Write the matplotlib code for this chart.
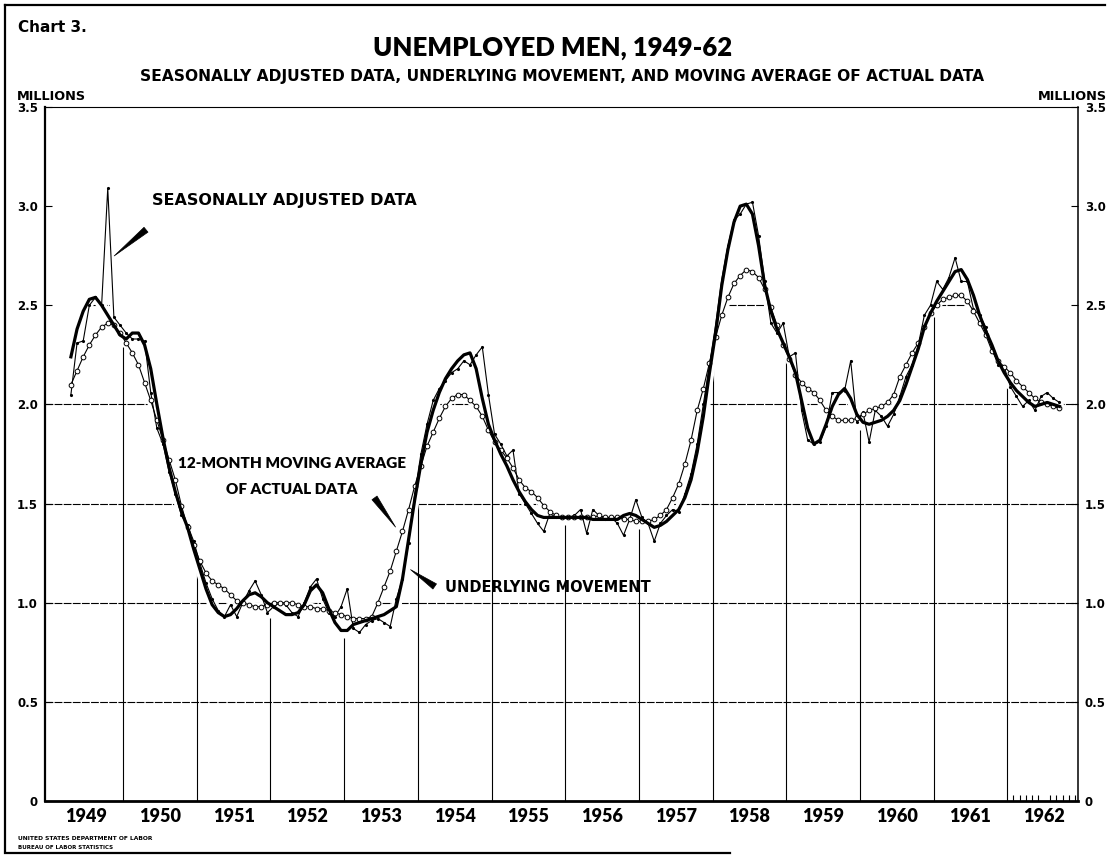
import numpy as np
import matplotlib
matplotlib.use('Agg')
import matplotlib.pyplot as plt
from matplotlib.patches import Polygon

# monthly series, April 1949 through September 1962 (millions)
seasonally_adjusted = [
    2.05, 2.31, 2.32, 2.50, 2.54, 2.50, 3.09, 2.44, 2.40,                   # 1949
    2.36, 2.33, 2.33, 2.32, 2.06, 1.88, 1.80, 1.66, 1.55, 1.44, 1.39, 1.31,  # 1950
    1.20, 1.10, 1.02, 0.96, 0.93, 0.99, 0.93, 1.00, 1.06, 1.11, 1.04, 0.95,  # 1951
    0.98, 1.00, 0.99, 0.95, 0.93, 1.00, 1.08, 1.12, 1.02, 0.95, 0.93, 0.98,  # 1952
    1.07, 0.87, 0.85, 0.89, 0.91, 0.92, 0.90, 0.88, 1.02, 1.12, 1.30, 1.55,  # 1953
    1.75, 1.90, 2.02, 2.08, 2.12, 2.16, 2.18, 2.22, 2.20, 2.25, 2.29, 2.05,  # 1954
    1.85, 1.80, 1.74, 1.77, 1.55, 1.50, 1.45, 1.40, 1.36, 1.45, 1.43, 1.43,  # 1955
    1.43, 1.44, 1.47, 1.35, 1.47, 1.44, 1.42, 1.43, 1.40, 1.34, 1.42, 1.52,  # 1956
    1.43, 1.40, 1.31, 1.40, 1.44, 1.47, 1.46, 1.55, 1.65, 1.80, 2.00, 2.20,  # 1957
    2.40, 2.63, 2.80, 2.93, 2.96, 3.01, 3.02, 2.85, 2.62, 2.41, 2.36, 2.41,  # 1958
    2.24, 2.26, 1.97, 1.82, 1.80, 1.81, 1.89, 2.06, 2.06, 2.07, 2.22, 1.91,  # 1959
    1.96, 1.81, 1.97, 1.94, 1.89, 1.95, 2.04, 2.14, 2.20, 2.30, 2.45, 2.50,  # 1960
    2.62, 2.58, 2.64, 2.74, 2.62, 2.62, 2.48, 2.45, 2.39, 2.28, 2.20, 2.19,  # 1961
    2.09, 2.04, 1.99, 2.02, 1.97, 2.04, 2.06, 2.03, 2.01,                    # 1962
]

underlying = [
    2.24, 2.38, 2.47, 2.53, 2.54, 2.50, 2.45, 2.40, 2.35,
    2.33, 2.36, 2.36, 2.30, 2.18, 2.00, 1.83, 1.68, 1.56, 1.46, 1.38, 1.27,
    1.17, 1.07, 0.99, 0.95, 0.93, 0.94, 0.97, 1.01, 1.04, 1.05, 1.03, 1.00,
    0.98, 0.96, 0.94, 0.94, 0.95, 0.99, 1.06, 1.09, 1.05, 0.97, 0.90, 0.86,
    0.86, 0.89, 0.90, 0.91, 0.92, 0.93, 0.94, 0.96, 0.98, 1.12, 1.32, 1.52,
    1.70, 1.86, 1.97, 2.06, 2.13, 2.18, 2.22, 2.25, 2.26, 2.18, 2.03, 1.90,
    1.82, 1.75, 1.69, 1.62, 1.56, 1.51, 1.47, 1.44, 1.43, 1.43, 1.43, 1.43,
    1.43, 1.43, 1.43, 1.43, 1.42, 1.42, 1.42, 1.42, 1.42, 1.44, 1.45, 1.44,
    1.42, 1.40, 1.38, 1.39, 1.41, 1.44, 1.47, 1.53, 1.62, 1.76, 1.94, 2.16,
    2.36, 2.60, 2.78, 2.92, 3.00, 3.01, 2.96, 2.80, 2.60, 2.47, 2.38, 2.31,
    2.24, 2.16, 2.02, 1.88, 1.80, 1.82, 1.90, 1.99, 2.05, 2.08, 2.03, 1.95,
    1.91, 1.90, 1.91, 1.92, 1.94, 1.97, 2.02, 2.10, 2.19, 2.28, 2.39, 2.46,
    2.52, 2.57, 2.62, 2.67, 2.68, 2.63, 2.55, 2.45, 2.37, 2.30, 2.22, 2.16,
    2.11, 2.07, 2.04, 2.01, 1.99, 2.00, 2.01, 2.00, 1.99,
]

moving_avg = [
    2.10, 2.17, 2.24, 2.30, 2.35, 2.39, 2.41, 2.40, 2.36,
    2.31, 2.26, 2.20, 2.11, 2.02, 1.92, 1.82, 1.72, 1.62, 1.49, 1.38, 1.29,
    1.21, 1.15, 1.11, 1.09, 1.07, 1.04, 1.01, 1.00, 0.99, 0.98, 0.98, 0.99,
    1.00, 1.00, 1.00, 1.00, 0.99, 0.98, 0.98, 0.97, 0.97, 0.96, 0.95, 0.94,
    0.93, 0.92, 0.92, 0.92, 0.93, 1.00, 1.08, 1.16, 1.26, 1.36, 1.47, 1.59,
    1.69, 1.79, 1.86, 1.93, 1.99, 2.03, 2.05, 2.05, 2.02, 1.99, 1.94, 1.87,
    1.81, 1.77, 1.73, 1.68, 1.62, 1.58, 1.56, 1.53, 1.49, 1.46, 1.44, 1.43,
    1.43, 1.43, 1.43, 1.43, 1.43, 1.44, 1.43, 1.43, 1.43, 1.42, 1.42, 1.41,
    1.41, 1.41, 1.42, 1.44, 1.47, 1.53, 1.60, 1.70, 1.82, 1.97, 2.08, 2.21,
    2.34, 2.45, 2.54, 2.61, 2.65, 2.68, 2.67, 2.64, 2.58, 2.49, 2.40, 2.30,
    2.23, 2.15, 2.11, 2.08, 2.06, 2.02, 1.97, 1.94, 1.92, 1.92, 1.92, 1.93,
    1.95, 1.97, 1.98, 1.99, 2.01, 2.05, 2.14, 2.20, 2.26, 2.31, 2.39, 2.46,
    2.50, 2.53, 2.54, 2.55, 2.55, 2.52, 2.47, 2.41, 2.35, 2.27, 2.22, 2.19,
    2.16, 2.12, 2.09, 2.06, 2.03, 2.01, 2.00, 1.99, 1.98,
]

years = list(range(1949, 1963))
y_ticks = [0, 0.5, 1.0, 1.5, 2.0, 2.5, 3.0, 3.5]
y_labels = ['0', '0.5', '1.0', '1.5', '2.0', '2.5', '3.0', '3.5']

HEAVY = ['Lato', 'DejaVu Sans']
BOLD = ['DejaVu Sans']
plt.rcParams['font.family'] = BOLD
plt.rcParams['font.weight'] = 'bold'

W, H = 1110, 855
fig = plt.figure(figsize=(W / 100, H / 100), dpi=100)
fig.patch.set_facecolor('white')

def fx(px):
    return px / W

def fy(py):
    return 1 - py / H

ax = fig.add_axes([fx(45), fy(801), fx(1078) - fx(45), fy(107) - fy(801)])

# month centres, starting April 1949
t = 1949 + (3 + np.arange(len(underlying)) + 0.5) / 12
sa = np.array(seasonally_adjusted)
um = np.array(underlying)
ma = np.array(moving_avg)

x0, x1 = 1948.94, 1962.96
ax.set_xlim(x0, x1)
ax.set_ylim(0, 3.5)

# horizontal rules only inside the area beneath the curves
top = np.maximum.reduce([sa, um, ma])
xs = np.concatenate([[x0], t, [x1]])
env = np.concatenate([[top[0]], top, [top[-1]]])
verts = np.column_stack([np.concatenate([xs, xs[::-1]]),
                         np.concatenate([env, np.zeros_like(env)])])
clip = Polygon(verts, closed=True, facecolor='none', edgecolor='none',
               transform=ax.transData)
ax.add_patch(clip)
for yv in y_ticks[1:-1]:
    ln, = ax.plot([x0, x1], [yv, yv], color='black', lw=0.8, zorder=1,
                  dashes=(7, 1.2))
    ln.set_clip_path(clip)

# year dividers rise from the base up to the lowest curve
low = np.minimum.reduce([sa, um, ma])
bounds = np.arange(1950, 1963)
ax.vlines(bounds, 0, np.interp(bounds, t, low) - 0.04, color='black',
          lw=0.8, zorder=1)

# white halos break the rules where the curves pass
halo = dict(color='white', solid_capstyle='round', zorder=2)
ax.plot(t, sa, lw=5, **halo)
ax.plot(t, ma, lw=6, **halo)
ax.plot(t, um, lw=7, **halo)

ax.plot(t, sa, color='black', lw=0.8, marker='.', ms=2.5, zorder=3)
ax.plot(t, ma, color='black', lw=0.8, marker='o', ms=3.4, mfc='white',
        mec='black', mew=0.7, zorder=4)
ax.plot(t, um, color='black', lw=2.3, zorder=5)

# axes frame
for side, lw in [('left', 1.6), ('bottom', 2.0), ('top', 0.8), ('right', 1.1)]:
    ax.spines[side].set_linewidth(lw)

ax.set_yticks(y_ticks)
ax.set_yticklabels(y_labels)
ax.tick_params(axis='y', direction='in', length=5, width=0.8, labelsize=8.5,
               left=True, right=True, labelleft=True, labelright=True, pad=5)

ax.set_xticks([y + 0.5 for y in years])
ax.set_xticklabels([str(y) for y in years], family=HEAVY, fontweight='heavy',
                   fontsize=13)
ax.tick_params(axis='x', which='major', length=0, pad=5)
ax.set_xticks(1962 + np.arange(1, 12) / 12, minor=True)
ax.tick_params(axis='x', which='minor', direction='in', length=4, width=0.8)

# callouts: (data x, data y) for the thin and wide ends of each wedge
wedge = dict(arrowstyle='wedge,tail_width=0.45,shrink_factor=0.5',
             color='black', lw=0.5)
ax.annotate('', xy=(1949.85, 2.74), xytext=(1950.34, 2.89), arrowprops=wedge)
ax.text(1950.39, 3.03, 'SEASONALLY ADJUSTED DATA', va='center', ha='left',
        fontsize=11.5)

ax.annotate('', xy=(1953.72, 1.37), xytext=(1953.39, 1.54), arrowprops=wedge)
ax.text(1952.29, 1.70, '12-MONTH MOVING AVERAGE', va='center', ha='center',
        family=HEAVY, fontweight='heavy', fontsize=11)
ax.text(1952.29, 1.57, 'OF ACTUAL DATA', va='center', ha='center',
        family=HEAVY, fontweight='heavy', fontsize=11)

ax.annotate('', xy=(1953.87, 1.175), xytext=(1954.26, 1.074), arrowprops=wedge)
ax.text(1954.37, 1.079, 'UNDERLYING MOVEMENT', va='center', ha='left',
        fontsize=10.5)

# headings
fig.text(fx(18), fy(28), 'Chart 3.', fontsize=11, va='center', ha='left')
fig.text(fx(553), fy(48), 'UNEMPLOYED MEN, 1949-62', family=HEAVY,
         fontweight='heavy', fontsize=18.5, va='center', ha='center')
fig.text(fx(562), fy(77),
         'SEASONALLY ADJUSTED DATA, UNDERLYING MOVEMENT, AND MOVING AVERAGE OF ACTUAL DATA',
         fontsize=11.2, va='center', ha='center')
fig.text(fx(17), fy(96), 'MILLIONS', fontsize=9.3, va='center', ha='left')
fig.text(fx(1107), fy(96), 'MILLIONS', fontsize=9.3, va='center', ha='right')
fig.text(fx(18), fy(838), 'UNITED STATES DEPARTMENT OF LABOR',
         fontsize=4.3, va='center', ha='left')
fig.text(fx(18), fy(847), 'BUREAU OF LABOR STATISTICS',
         fontsize=4.0, va='center', ha='left')

# page border
for seg in ([[5, 5], [5, 851]], [[5, 1105], [5, 5]], [[5, 730], [853, 853]]):
    fig.add_artist(plt.Line2D([fx(p) for p in seg[0]], [fy(p) for p in seg[1]],
                              color='black', lw=1.6))

fig.savefig('out.png', dpi=100)
